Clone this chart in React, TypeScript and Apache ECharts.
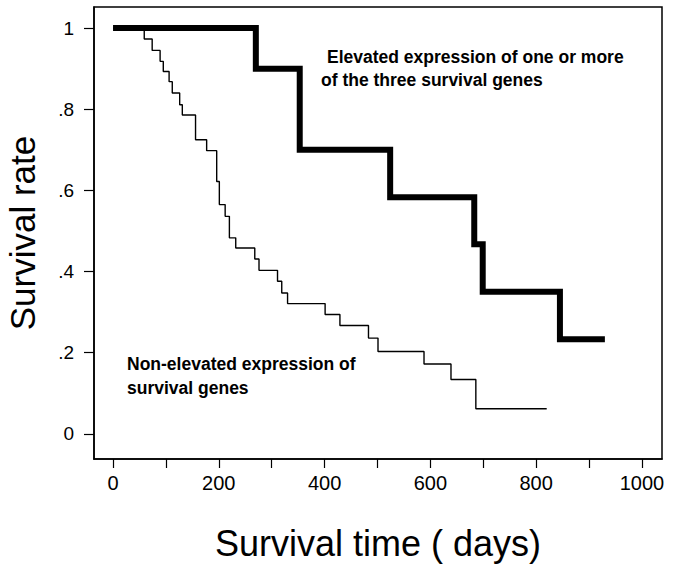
import React, { useEffect, useRef } from "react";
import * as echarts from "echarts";

// Elevated expression of one or more of the three survival genes
const elevatedDays = [0, 270, 353, 524, 683, 699, 845, 930];
const elevatedRate = [1, 0.9, 0.7, 0.583, 0.467, 0.35, 0.233, 0.233];

// Non-elevated expression of survival genes
const nonElevatedDays = [
  0, 59, 74, 89, 95, 106, 112, 126, 131, 156, 177, 196, 201, 212, 220, 232,
  268, 276, 311, 319, 330, 401, 429, 483, 501, 588, 639, 686, 820,
];
const nonElevatedRate = [
  1, 0.973, 0.945, 0.918, 0.893, 0.868, 0.84, 0.811, 0.786, 0.725, 0.698,
  0.622, 0.565, 0.536, 0.483, 0.458, 0.431, 0.403, 0.376, 0.347, 0.321, 0.294,
  0.267, 0.236, 0.203, 0.172, 0.134, 0.062, 0.062,
];

const xTicks = [0, 100, 200, 300, 400, 500, 600, 700, 800, 900, 1000];
const xLabels = [0, 200, 400, 600, 800, 1000];
const yTicks = [0, 0.2, 0.4, 0.6, 0.8, 1];

const xTitle = "Survival time ( days)";
const yTitle = "Survival rate";
const elevatedNote = ["Elevated expression of one or more", "of the three survival genes"];
const nonElevatedNote = ["Non-elevated expression of", "survival genes"];

export default function App() {
  const ref = useRef<HTMLDivElement>(null);
  useEffect(() => {
    if (!ref.current) return;
    const chart = echarts.init(ref.current, null, { renderer: "svg" });
    const font = "'Liberation Sans', Arial, sans-serif";
    const noteStyle = (text: string, x: number, y: number) => ({
      type: "text",
      x,
      y,
      style: {
        text,
        fill: "#000",
        font: `bold 17.5px ${font}`,
        verticalAlign: "middle",
      },
    });
    chart.setOption({
      animation: false,
      backgroundColor: "#fff",
      grid: {
        left: 94,
        right: 17,
        top: 7,
        bottom: 108,
        show: true,
        borderColor: "#000",
        borderWidth: 1.5,
        outerBoundsMode: "none",
        containLabel: false,
      },
      xAxis: {
        type: "value",
        min: -36,
        max: 1038,
        splitLine: { show: false },
        axisLine: { show: true, onZero: false, lineStyle: { color: "#000", width: 1.5 } },
        axisTick: {
          show: true,
          inside: false,
          length: 9,
          customValues: xTicks,
          lineStyle: { color: "#000", width: 1.2 },
        },
        axisLabel: {
          customValues: xLabels,
          color: "#000",
          fontSize: 20,
          fontFamily: font,
          margin: 14,
          formatter: (v: number) => String(v),
        },
        name: xTitle,
        nameLocation: "middle",
        nameGap: 66,
        nameTextStyle: { color: "#000", fontSize: 36, fontFamily: font },
      },
      yAxis: {
        type: "value",
        min: -0.062,
        max: 1.052,
        splitLine: { show: false },
        axisLine: { show: true, onZero: false, lineStyle: { color: "#000", width: 1.5 } },
        axisTick: {
          show: true,
          inside: false,
          length: 10,
          customValues: yTicks,
          lineStyle: { color: "#000", width: 1.2 },
        },
        axisLabel: {
          customValues: yTicks,
          color: "#000",
          fontSize: 19,
          fontFamily: font,
          margin: 20,
          padding: [0, 0, 11, 0],
          formatter: (v: number) =>
            v === 0 ? "0" : v === 1 ? "1" : "." + Math.round(v * 10),
        },
        name: yTitle,
        nameLocation: "middle",
        nameGap: 54,
        nameTextStyle: { color: "#000", fontSize: 35, fontFamily: font },
      },
      series: [
        {
          type: "line",
          step: "end",
          symbol: "none",
          data: nonElevatedDays.map((d, i) => [d, nonElevatedRate[i]]),
          lineStyle: { color: "#000", width: 1.4 },
          z: 2,
        },
        {
          type: "line",
          step: "end",
          symbol: "none",
          data: elevatedDays.map((d, i) => [d, elevatedRate[i]]),
          lineStyle: { color: "#000", width: 6, cap: "butt", join: "miter" },
          z: 3,
        },
      ],
      graphic: [
        noteStyle(elevatedNote[0], 327, 57),
        noteStyle(elevatedNote[1], 321, 80),
        noteStyle(nonElevatedNote[0], 127, 364),
        noteStyle(nonElevatedNote[1], 127, 388),
      ],
    });
    return () => chart.dispose();
  }, []);
  return <div ref={ref} style={{ width: 679, height: 567, position: "absolute", left: 0, top: 0 }} />;
}
